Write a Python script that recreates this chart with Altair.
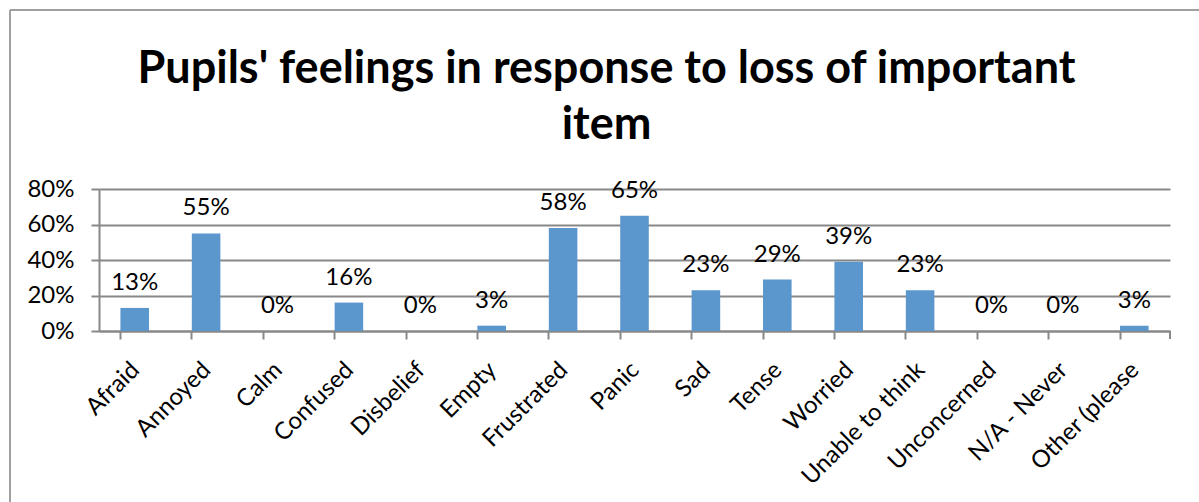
import altair as alt
import pandas as pd

categories = ["Afraid", "Annoyed", "Calm", "Confused", "Disbelief", "Empty",
              "Frustrated", "Panic", "Sad", "Tense", "Worried", "Unable to think",
              "Unconcerned", "N/A - Never", "Other (please"]
values = [0.13, 0.55, 0.00, 0.16, 0.00, 0.03, 0.58, 0.65, 0.23, 0.29, 0.39, 0.23,
          0.00, 0.00, 0.03]
y_ticks = [0, 0.2, 0.4, 0.6, 0.8]
title_lines = ["Pupils' feelings in response to loss of important", "item"]

df = pd.DataFrame({"cat": categories, "val": values})

FONT = "Lato"
W, H = 1071, 142
GRID = "#888888"

x_enc = alt.X("cat:N", sort=categories, title=None,
              scale=alt.Scale(paddingInner=0.6, paddingOuter=0.3),
              axis=alt.Axis(labelAngle=-45, labelAlign="right", labelBaseline="middle",
                            labelFontSize=24, labelFont=FONT, labelColor="black",
                            labelPadding=27, labelOffset=1, tickSize=8, tickColor=GRID,
                            tickWidth=2, bandPosition=0, domainColor=GRID,
                            domainWidth=2, grid=False, labelOverlap=False))
y_enc = alt.Y("val:Q", title=None,
              scale=alt.Scale(domain=[0, 0.8], nice=False),
              axis=alt.Axis(values=y_ticks, tickCount=5, format=".0%", labelFontSize=24,
                            labelFont=FONT, labelColor="black", labelPadding=17,
                            labelOverlap=False, tickSize=8, tickColor=GRID, tickWidth=2,
                            domainColor=GRID, domainWidth=2, gridColor=GRID, gridWidth=2))

base = alt.Chart(df)
bars = base.mark_bar(color="#5B96CC").encode(x=x_enc, y=y_enc)
labels = base.mark_text(fontSize=24, font=FONT, color="black", dy=-18,
                        baseline="alphabetic").encode(
    x=alt.X("cat:N", sort=categories),
    y="val:Q",
    text=alt.Text("val:Q", format=".0%"))

one = pd.DataFrame({"a": [0]})
end_tick = alt.Chart(one).mark_rule(color=GRID, strokeWidth=2).encode(
    x=alt.value(W), y=alt.value(H), y2=alt.value(H + 8))
border_left = alt.Chart(one).mark_rule(color="#A0A0A0", strokeWidth=2).encode(
    x=alt.value(-89), y=alt.value(-179), y2=alt.value(H + 200))
border_top = alt.Chart(one).mark_rule(color="#A0A0A0", strokeWidth=2).encode(
    x=alt.value(-89), x2=alt.value(W + 40), y=alt.value(-179))
title = alt.Chart(one).mark_text(
    text=title_lines, fontSize=45, font=FONT, fontWeight="bold", color="black",
    lineHeight=56, align="center", baseline="alphabetic").encode(
    x=alt.value(W / 2 - 28), y=alt.value(-106))

chart = alt.layer(bars, labels, end_tick, border_left, border_top, title).properties(
    width=W, height=H,
    autosize=alt.AutoSizeParams(type="none"),
    padding={"left": 99, "top": 189, "right": 29, "bottom": 171},
    background="white",
).configure_view(stroke=None)

chart.save("out.html", embed_options={"renderer": "svg", "actions": False})
